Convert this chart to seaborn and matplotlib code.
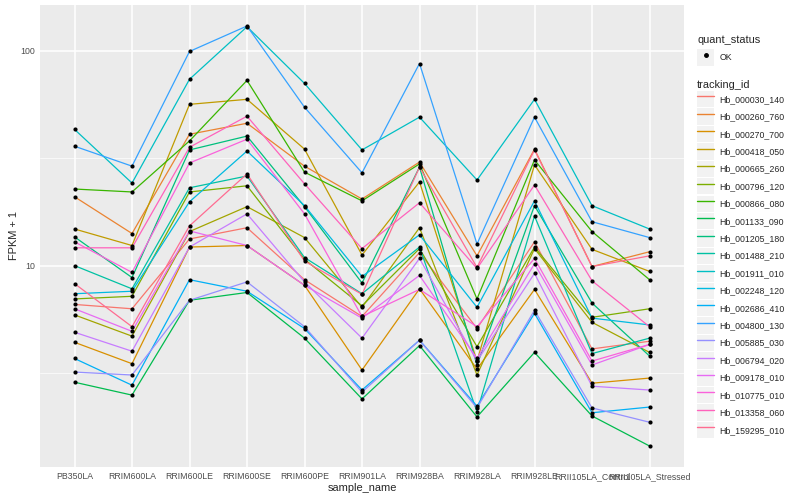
import numpy as np
import pandas as pd
import seaborn as sns
import matplotlib
matplotlib.use("Agg")
import matplotlib.pyplot as plt
from matplotlib.lines import Line2D
from matplotlib.patches import Rectangle
from matplotlib.legend_handler import HandlerLine2D
from matplotlib.ticker import FixedLocator, NullFormatter

samples = ["PB350LA", "RRIM600LA", "RRIM600LE", "RRIM600SE", "RRIM600PE", "RRIM901LA",
           "RRIM928BA", "RRIM928LA", "RRIM928LE", "RRII105LA_Control", "RRII105LA_Stressed"]

genes = ["Hb_000030_140", "Hb_000260_760", "Hb_000270_700", "Hb_000418_050", "Hb_000665_260",
         "Hb_000796_120", "Hb_000866_080", "Hb_001133_090", "Hb_001205_180", "Hb_001488_210",
         "Hb_001911_010", "Hb_002248_120", "Hb_002686_410", "Hb_004800_130", "Hb_005885_030",
         "Hb_006794_020", "Hb_009178_010", "Hb_010775_010", "Hb_013358_060", "Hb_159295_010"]

# ggplot hue palette for 20 levels
colors = ["#F8766D", "#EA8331", "#D89000", "#C09B00", "#A3A500", "#7CAE00", "#39B600",
          "#00BB4E", "#00BF7D", "#00C1A3", "#00BFC4", "#00BAE0", "#00B0F6", "#35A2FF",
          "#9590FF", "#C77CFF", "#E76BF3", "#FA62DB", "#FF62BC", "#FF6C91"]

# FPKM + 1, one row per gene, columns follow samples
fpkm_plus1 = [
    [6.6, 6.3, 13.3, 15.0, 8.6, 5.8, 11.5, 5.1, 12.9, 4.1, 4.45],
    [20.9, 14.1, 40.8, 45.9, 29.0, 20.4, 30.3, 11.1, 34.8, 9.9, 11.6],
    [4.4, 3.5, 12.2, 12.4, 8.1, 3.27, 7.8, 3.3, 7.75, 2.84, 3.0],
    [14.8, 12.4, 56.2, 59.3, 34.8, 11.2, 24.5, 3.6, 29.4, 11.9, 9.4],
    [5.9, 4.7, 14.4, 18.8, 13.5, 6.4, 15.0, 3.1, 12.0, 5.45, 3.95],
    [7.0, 7.2, 22.0, 23.5, 10.7, 6.5, 12.0, 4.2, 12.2, 5.75, 6.3],
    [22.7, 22.0, 38.0, 72.6, 27.2, 20.0, 29.7, 7.0, 31.0, 14.4, 8.6],
    [2.87, 2.5, 6.9, 7.5, 4.6, 2.4, 4.25, 1.98, 3.95, 2.0, 1.45],
    [13.6, 8.8, 34.5, 40.0, 18.8, 8.3, 28.7, 3.45, 19.0, 6.7, 3.8],
    [10.0, 7.8, 23.0, 26.1, 10.9, 7.4, 12.2, 2.09, 17.0, 3.9, 4.6],
    [43.0, 24.2, 73.5, 129.0, 70.3, 34.5, 49.0, 25.0, 59.3, 19.0, 14.8],
    [7.4, 7.6, 19.8, 34.1, 19.0, 8.9, 13.9, 6.4, 20.0, 5.7, 5.3],
    [3.7, 2.78, 8.6, 7.6, 5.1, 2.64, 4.5, 2.22, 6.0, 2.07, 2.2],
    [35.9, 29.0, 99.0, 130.0, 54.5, 27.0, 87.0, 12.6, 49.0, 16.0, 13.5],
    [3.2, 3.1, 6.9, 8.4, 5.2, 2.58, 4.5, 2.18, 6.2, 2.18, 1.87],
    [4.9, 4.0, 12.2, 17.4, 8.4, 4.6, 10.8, 3.6, 9.2, 2.75, 2.64],
    [6.3, 4.95, 14.5, 12.4, 8.1, 5.7, 9.0, 3.7, 10.2, 3.45, 4.3],
    [12.9, 9.3, 30.0, 38.7, 17.4, 5.8, 7.75, 5.2, 10.8, 3.6, 4.3],
    [12.1, 12.1, 35.5, 49.5, 24.0, 12.0, 19.6, 9.7, 23.7, 8.5, 5.2],
    [8.25, 5.2, 15.3, 26.7, 10.5, 7.35, 28.7, 9.8, 34.5, 9.9, 11.1],
]

rows = []
for g, vals in zip(genes, fpkm_plus1):
    for s, v in zip(samples, vals):
        rows.append({"tracking_id": g, "sample_name": s, "fpkm": v, "quant_status": "OK"})
df = pd.DataFrame(rows)

sns.set_style("darkgrid", {"axes.facecolor": "#EBEBEB", "grid.color": "white"})
plt.rcParams["font.family"] = ["Liberation Sans", "DejaVu Sans"]

fig = plt.figure(figsize=(8, 5), dpi=100)
ax = fig.add_axes([40 / 800, 33 / 500, 644 / 800, 462 / 500])

sns.lineplot(data=df, x="sample_name", y="fpkm", hue="tracking_id", hue_order=genes,
             palette=colors, linewidth=0.9, sort=False, estimator=None, legend=False, ax=ax)
sns.scatterplot(data=df, x="sample_name", y="fpkm", color="black", s=9, linewidth=0,
                legend=False, ax=ax, zorder=3)

ax.set_yscale("log")
lo, hi = np.log10(df["fpkm"].min()), np.log10(df["fpkm"].max())
pad = 0.05 * (hi - lo)
ax.set_ylim(10 ** (lo - pad), 10 ** (hi + pad))
ax.set_xlim(-0.6, len(samples) - 0.4)

ax.yaxis.set_major_locator(FixedLocator([10, 100]))
ax.set_yticklabels(["10", "100"])
ax.yaxis.set_minor_locator(FixedLocator([10 ** 0.5, 10 ** 1.5]))
ax.yaxis.set_minor_formatter(NullFormatter())
ax.grid(which="major", color="white", linewidth=1.1)
ax.grid(which="minor", axis="y", color="white", linewidth=0.5)
ax.tick_params(axis="both", which="major", length=2, width=0.7, color="#333333",
               labelsize=6.3, labelcolor="#4D4D4D", pad=1.5)
ax.tick_params(axis="y", which="minor", length=0)
for sp in ax.spines.values():
    sp.set_visible(False)

ax.set_xlabel("sample_name", fontsize=7.9, labelpad=1.5)
ax.set_ylabel("FPKM + 1", fontsize=7.9, labelpad=1)


class KeyHandler(HandlerLine2D):
    def create_artists(self, legend, orig_handle, xdescent, ydescent, width, height, fontsize, trans):
        bg = Rectangle((-xdescent, -ydescent), width, height, facecolor="#F2F2F2",
                       edgecolor="none", transform=trans)
        arts = super().create_artists(legend, orig_handle, xdescent, ydescent, width, height, fontsize, trans)
        return [bg] + list(arts)


common = dict(loc="upper left", frameon=False, fontsize=6.3, title_fontsize=7.9,
              handlelength=1.97, handleheight=2.5, handletextpad=0.6, borderpad=0,
              borderaxespad=0, numpoints=1, alignment="left",
              handler_map={Line2D: KeyHandler()})

ok_handle = Line2D([], [], marker="o", color="black", linestyle="none", markersize=2.5)
fig.legend(handles=[ok_handle], labels=["OK"], title="quant_status",
           bbox_to_anchor=(697 / 800, 1 - 35 / 500), **common)

id_handles = [Line2D([], [], color=c, linewidth=1) for c in colors]
fig.legend(handles=id_handles, labels=genes, title="tracking_id", labelspacing=0.12,
           bbox_to_anchor=(697 / 800, 1 - 80 / 500), **common)

fig.savefig("out.png", dpi=100)
